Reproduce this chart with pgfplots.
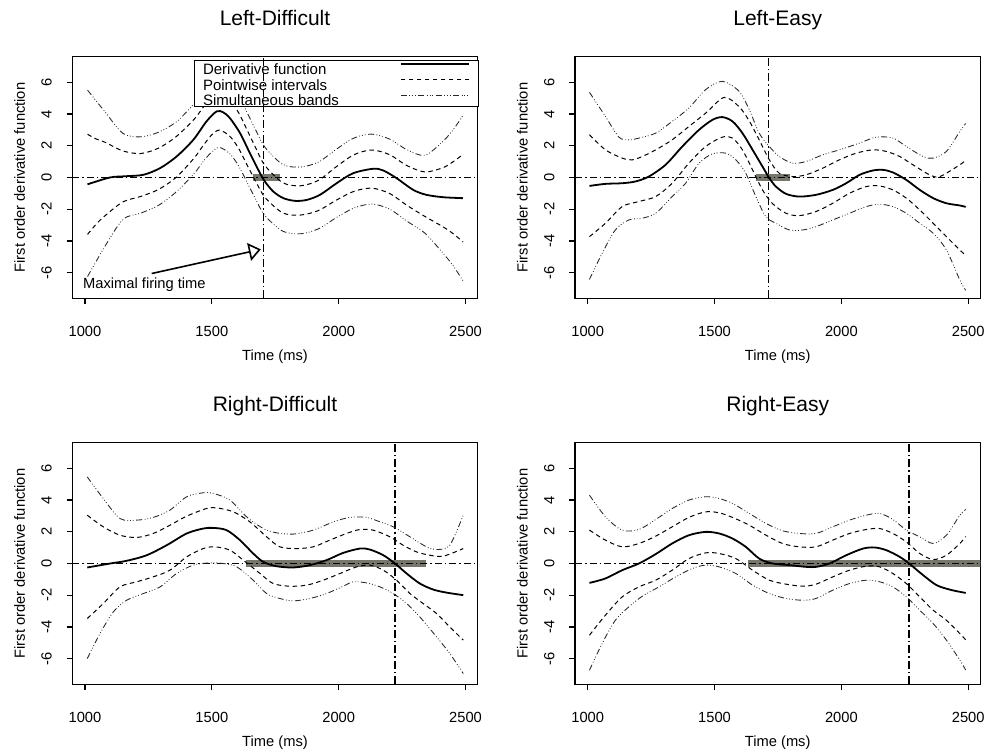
\documentclass[border=0pt]{standalone}
\usepackage{fontspec}
\setmainfont{Liberation Sans}
\usepackage{pgfplots}
\pgfplotsset{compat=1.18}
\usetikzlibrary{arrows.meta}
\definecolor{bargray}{RGB}{118,118,108}
\newcommand{\lbl}{\fontsize{14.7}{17}\selectfont}
\newcommand{\ttl}{\fontsize{21}{25}\selectfont}

\tikzset{
  sol/.style={black, line width=1.8pt, smooth},
  pw/.style={black, line width=1pt, dash pattern=on 4.5pt off 3.5pt, smooth},
  sb/.style={black!85, line width=0.85pt, dash pattern=on 6pt off 2.5pt on 0.8pt off 2pt on 0.8pt off 2pt on 0.8pt off 2.5pt, smooth},
  zl/.style={black, line width=1.4pt, dash pattern=on 7pt off 3pt on 1.5pt off 3pt},
  vl/.style={black, line width=1.3pt, dash pattern=on 8pt off 3pt on 1.5pt off 3pt},
  gbar/.style={bargray, line width=7pt},
}

\pgfplotsset{
  panel/.style={
    scale only axis, width=405.4pt, height=241.6pt, anchor=north west,
    xmin=950, xmax=2548, ymin=-7.6, ymax=7.6,
    xtick={1000,1500,2000,2500}, xticklabels={1000,1500,2000,2500},
    ytick={-6,-4,-2,0,2,4,6}, yticklabels={-6,-4,-2,0,2,4,6},
    tick align=outside, xtick pos=left, ytick pos=left,
    major tick length=5.7pt,
    every tick/.style={black, line width=1.2pt},
    axis line style={line width=1.4pt},
    tick label style={font=\lbl},
    xticklabel style={anchor=base, yshift=-32.4pt},
    yticklabel style={anchor=base, xshift=-15pt, rotate=90},
    xlabel={Time (ms)}, ylabel={First order derivative function},
    every axis x label/.style={at={(axis description cs:0.5,0)}, anchor=base, yshift=-61.7pt, font=\lbl},
    every axis y label/.style={at={(axis description cs:0,0.5)}, xshift=-47.3pt, rotate=90, anchor=base, font=\lbl},
    every axis title/.style={at={(axis description cs:0.5,1)}, anchor=base, yshift=31pt, font=\ttl},
  },
}

\begin{document}
\begin{tikzpicture}
\path[use as bounding box] (0,0) rectangle (987pt,-755pt);

% ---------------- Left-Difficult ----------------
\begin{axis}[panel, at={(72.3pt,-56.7pt)}, title={Left-Difficult},
  legend plot pos=right, legend cell align=left,
  legend image code/.code={\draw[#1] (0pt,4pt) -- (68pt,4pt);},
  legend style={at={(axis description cs:0.300,0.986)}, anchor=north west,
    draw=black, line width=1.2pt, fill=white, font=\fontsize{15}{15}\selectfont,
    inner xsep=8.5pt, inner ysep=1pt, row sep=2.5pt, column sep=61pt,
    nodes={inner sep=0pt, text height=13pt, text depth=0pt}}]
\addplot[gbar, forget plot] coordinates {(1661,0)(1768,0)};
\addplot[zl, forget plot] coordinates {(950,0)(2548,0)};
\addplot[sol] coordinates {(1010,-0.43)(1098,0)(1160,0.08)(1230,0.17)(1296,0.59)(1361,1.32)(1427,2.37)(1479,3.53)(1519,4.16)(1545,4.1)(1571,3.74)(1611,2.8)(1650,1.53)(1690,0.27)(1709,-0.25)(1742,-0.88)(1782,-1.3)(1828,-1.47)(1874,-1.41)(1926,-1.09)(1992,-0.36)(2057,0.27)(2136,0.55)(2176,0.44)(2228,-0.04)(2294,-0.78)(2346,-1.09)(2412,-1.24)(2490,-1.3)};
\addlegendentry{Derivative function}
\addplot[pw] coordinates {(1010,2.72)(1045,2.42)(1080,2.21)(1150,1.67)(1220,1.51)(1290,1.85)(1360,2.58)(1430,3.66)(1465,4.39)(1500,5.03)(1530,5.3)(1570,4.91)(1605,4.09)(1640,2.96)(1675,1.79)(1710,0.74)(1780,-0.33)(1850,-0.52)(1920,-0.18)(1990,0.67)(2060,1.43)(2130,1.73)(2200,1.44)(2270,0.74)(2340,0.35)(2410,0.61)(2450,0.98)(2490,1.45)};
\addlegendentry{Pointwise intervals}
\addplot[pw, forget plot] coordinates {(1010,-3.58)(1045,-2.92)(1080,-2.39)(1150,-1.53)(1220,-1.19)(1290,-0.75)(1360,0.02)(1430,1.22)(1465,1.99)(1500,2.69)(1530,2.98)(1570,2.61)(1605,1.85)(1640,0.76)(1675,-0.31)(1710,-1.26)(1780,-2.23)(1850,-2.36)(1920,-2.08)(1990,-1.43)(2060,-0.87)(2130,-0.67)(2200,-1.0)(2270,-1.76)(2340,-2.45)(2410,-3.09)(2450,-3.52)(2490,-4.05)};
\addplot[sb] coordinates {(1010,5.5)(1045,4.8)(1080,4.11)(1150,2.77)(1220,2.56)(1290,2.85)(1360,3.5)(1430,4.64)(1465,5.39)(1500,6.11)(1530,6.39)(1570,6.01)(1605,5.19)(1640,4.06)(1675,2.92)(1710,1.89)(1780,0.82)(1850,0.66)(1920,0.97)(1990,1.77)(2060,2.48)(2130,2.73)(2200,2.42)(2270,1.74)(2340,1.4)(2410,2.26)(2450,2.98)(2490,3.9)};
\addlegendentry{Simultaneous bands}
\addplot[sb, forget plot] coordinates {(1010,-6.23)(1045,-5.25)(1080,-4.29)(1150,-2.63)(1220,-2.24)(1290,-1.75)(1360,-0.9)(1430,0.24)(1465,0.99)(1500,1.61)(1530,1.89)(1570,1.51)(1605,0.75)(1640,-0.34)(1675,-1.44)(1710,-2.41)(1780,-3.38)(1850,-3.54)(1920,-3.23)(1990,-2.53)(2060,-1.92)(2130,-1.67)(2200,-1.98)(2270,-2.76)(2340,-3.5)(2410,-4.74)(2450,-5.52)(2490,-6.5)};
\draw[black, line width=1.6pt, -{Triangle[open, length=12pt, width=18pt, line width=1.6pt]}] (axis cs:1263,-6.04) -- (axis cs:1693,-4.52);
\node[anchor=base west, inner sep=0pt, font=\lbl] at (axis cs:992,-6.98) {Maximal firing time};
\end{axis}
% vertical line drawn over the legend
\begin{axis}[panel, at={(72.3pt,-56.7pt)}, hide axis]
\addplot[vl] coordinates {(1703,-7.6)(1703,7.6)};
\end{axis}

% ---------------- Left-Easy ----------------
\begin{axis}[panel, at={(575pt,-56.7pt)}, title={Left-Easy}]
\addplot[gbar] coordinates {(1664,0)(1798,0)};
\addplot[zl] coordinates {(950,0)(2548,0)};
\addplot[vl] coordinates {(1712,-7.6)(1712,7.6)};
\addplot[pw] coordinates {(1007,2.69)(1070,1.74)(1136,1.22)(1175,1.11)(1215,1.32)(1268,1.74)(1333,2.37)(1399,3.21)(1465,4.05)(1538,5.04)(1597,4.45)(1637,3.55)(1676,2.37)(1716,1.11)(1755,0.27)(1808,0.06)(1861,0.17)(1927,0.59)(1992,1.11)(2058,1.53)(2124,1.74)(2177,1.64)(2230,1.32)(2282,0.80)(2348,0.17)(2388,0.06)(2467,0.80)(2490,1.1)};
\addplot[pw] coordinates {(1007,-3.72)(1070,-2.88)(1136,-1.83)(1202,-1.51)(1268,-1.20)(1333,-0.36)(1399,0.90)(1465,1.95)(1531,2.54)(1571,2.48)(1610,1.74)(1650,0.48)(1689,-0.78)(1729,-1.65)(1782,-2.25)(1834,-2.40)(1900,-2.14)(1966,-1.62)(2032,-0.99)(2098,-0.57)(2150,-0.53)(2203,-0.78)(2256,-1.30)(2309,-2.04)(2362,-2.88)(2414,-3.72)(2467,-4.56)(2490,-4.9)};
\addplot[sb] coordinates {(1007,5.36)(1070,3.84)(1123,2.54)(1162,2.37)(1202,2.48)(1268,2.79)(1333,3.53)(1399,4.37)(1465,5.53)(1531,6.05)(1597,5.42)(1637,4.26)(1676,2.79)(1716,1.95)(1755,1.32)(1808,0.90)(1861,1.01)(1927,1.43)(1992,1.74)(2071,2.16)(2137,2.54)(2203,2.48)(2256,1.95)(2322,1.32)(2362,1.22)(2414,1.64)(2467,2.90)(2490,3.4)};
\addplot[sb] coordinates {(1007,-6.41)(1057,-4.77)(1109,-3.30)(1162,-2.67)(1215,-2.56)(1268,-2.25)(1333,-1.2)(1386,-0.36)(1439,0.90)(1492,1.49)(1544,1.53)(1584,1.11)(1623,0.27)(1663,-1.20)(1702,-2.46)(1742,-2.88)(1795,-3.30)(1848,-3.30)(1900,-3.09)(1966,-2.67)(2032,-2.25)(2098,-1.83)(2150,-1.68)(2203,-1.83)(2256,-2.25)(2309,-2.88)(2362,-3.51)(2414,-4.56)(2467,-6.45)(2490,-7.1)};
\addplot[sol] coordinates {(1007,-0.53)(1070,-0.40)(1136,-0.36)(1188,-0.25)(1241,0.06)(1307,0.80)(1373,1.95)(1439,3.00)(1492,3.63)(1531,3.80)(1571,3.53)(1610,2.79)(1650,1.74)(1689,0.69)(1716,-0.04)(1742,-0.57)(1782,-1.03)(1834,-1.20)(1900,-1.09)(1966,-0.78)(2019,-0.36)(2072,0.17)(2124,0.44)(2164,0.48)(2203,0.32)(2256,-0.15)(2309,-0.78)(2362,-1.30)(2414,-1.62)(2467,-1.76)(2490,-1.85)};
\end{axis}

% ---------------- Right-Difficult ----------------
\begin{axis}[panel, at={(72.3pt,-442.7pt)}, title={Right-Difficult}]
\addplot[gbar] coordinates {(1633,0)(2343,0)};
\addplot[zl] coordinates {(950,0)(2548,0)};
\addplot[vl] coordinates {(2222,-7.6)(2222,7.6)};
\addplot[pw] coordinates {(1009,3.04)(1072,2.31)(1138,1.78)(1204,1.64)(1269,1.89)(1335,2.41)(1401,2.98)(1479,3.46)(1519,3.5)(1585,3.25)(1650,2.62)(1716,1.68)(1768,1.05)(1834,0.94)(1900,1.05)(1965,1.47)(2031,1.89)(2084,2.14)(2136,2.1)(2202,1.68)(2254,1.15)(2307,0.73)(2360,0.52)(2412,0.46)(2491,0.94)};
\addplot[pw] coordinates {(1009,-3.46)(1072,-2.52)(1138,-1.47)(1204,-1.15)(1269,-0.84)(1335,-0.42)(1401,0.42)(1466,0.94)(1512,1.05)(1571,0.84)(1624,0.21)(1690,-0.63)(1742,-1.26)(1808,-1.43)(1874,-1.36)(1939,-1.05)(2005,-0.63)(2071,-0.21)(2123,-0.1)(2176,-0.42)(2228,-1.05)(2281,-1.89)(2333,-2.52)(2386,-3.15)(2438,-3.99)(2491,-4.82)};
\addplot[sb] coordinates {(1009,5.45)(1072,4.09)(1138,2.83)(1204,2.73)(1269,2.9)(1335,3.36)(1401,4.2)(1466,4.45)(1506,4.41)(1571,3.99)(1637,2.94)(1703,2.2)(1755,1.93)(1821,1.85)(1900,2.1)(1979,2.62)(2044,2.9)(2110,2.9)(2163,2.62)(2215,2.31)(2281,1.68)(2346,1.05)(2386,0.88)(2438,1.15)(2491,3.04)};
\addplot[sb] coordinates {(1009,-5.98)(1059,-4.41)(1112,-3.04)(1164,-2.31)(1230,-1.89)(1296,-1.47)(1361,-0.63)(1427,-0.1)(1493,0.04)(1545,0)(1598,-0.21)(1663,-1.05)(1716,-1.89)(1768,-2.2)(1821,-2.35)(1887,-2.2)(1952,-1.89)(2018,-1.43)(2057,-1.15)(2110,-1.22)(2163,-1.47)(2215,-1.89)(2268,-2.52)(2320,-3.36)(2386,-4.62)(2438,-5.66)(2491,-6.92)};
\addplot[sol] coordinates {(1009,-0.25)(1099,0)(1164,0.17)(1243,0.52)(1322,1.15)(1401,1.89)(1466,2.2)(1506,2.24)(1558,2.1)(1611,1.47)(1663,0.63)(1703,0.1)(1755,-0.17)(1821,-0.25)(1887,-0.1)(1952,0.21)(2018,0.67)(2084,0.94)(2123,0.88)(2176,0.52)(2222,0)(2268,-0.63)(2320,-1.26)(2373,-1.64)(2425,-1.83)(2491,-1.99)};
\end{axis}

% ---------------- Right-Easy ----------------
\begin{axis}[panel, at={(575pt,-442.7pt)}, title={Right-Easy}]
\addplot[gbar] coordinates {(1633,0)(2560,0)};
\addplot[zl] coordinates {(950,0)(2548,0)};
\addplot[vl] coordinates {(2267,-7.6)(2267,7.6)};
\addplot[pw] coordinates {(1007,2.1)(1070,1.47)(1136,1.05)(1202,1.26)(1268,1.72)(1333,2.31)(1399,2.9)(1465,3.25)(1518,3.19)(1571,2.9)(1637,2.41)(1703,1.78)(1768,1.26)(1834,1.05)(1900,1.05)(1966,1.47)(2032,1.89)(2098,2.14)(2151,2.2)(2203,1.89)(2256,1.36)(2309,0.63)(2362,0.25)(2414,0.52)(2467,1.26)(2490,1.7)};
\addplot[pw] coordinates {(1007,-4.51)(1070,-3.25)(1136,-2.1)(1202,-1.47)(1268,-1.05)(1333,-0.42)(1399,0.31)(1465,0.67)(1518,0.63)(1584,0.31)(1650,-0.42)(1716,-1.05)(1782,-1.3)(1848,-1.43)(1900,-1.3)(1966,-0.84)(2032,-0.42)(2098,-0.17)(2151,-0.21)(2203,-0.63)(2256,-1.26)(2309,-2.1)(2362,-2.94)(2414,-3.57)(2467,-4.41)(2490,-4.8)};
\addplot[sb] coordinates {(1007,4.3)(1070,2.94)(1136,2.1)(1202,2.14)(1268,2.77)(1333,3.46)(1399,3.99)(1465,4.2)(1518,4.09)(1571,3.78)(1637,3.15)(1703,2.52)(1768,2.06)(1834,1.89)(1900,1.89)(1966,2.31)(2032,2.73)(2098,3.04)(2151,3.15)(2203,2.77)(2256,2.1)(2309,1.68)(2362,1.26)(2414,1.78)(2467,3.04)(2490,3.4)};
\addplot[sb] coordinates {(1007,-6.71)(1057,-5.03)(1109,-3.57)(1162,-2.73)(1215,-2.06)(1281,-1.47)(1347,-0.84)(1413,-0.31)(1465,-0.1)(1518,-0.21)(1584,-0.63)(1650,-1.36)(1716,-1.89)(1782,-2.2)(1848,-2.31)(1900,-2.2)(1966,-1.68)(2032,-1.26)(2098,-1.05)(2151,-1.15)(2203,-1.47)(2256,-2.1)(2309,-2.94)(2362,-3.78)(2414,-4.82)(2467,-6.08)(2490,-6.7)};
\addplot[sol] coordinates {(1007,-1.22)(1070,-0.94)(1136,-0.42)(1202,0)(1268,0.59)(1333,1.26)(1399,1.78)(1465,1.99)(1518,1.89)(1571,1.57)(1623,1.05)(1676,0.31)(1729,0)(1795,-0.1)(1861,-0.21)(1900,-0.21)(1953,0)(2019,0.52)(2085,0.94)(2131,1.01)(2177,0.84)(2230,0.42)(2267,0)(2322,-0.73)(2375,-1.36)(2427,-1.64)(2467,-1.78)(2490,-1.85)};
\end{axis}
\end{tikzpicture}
\end{document}
